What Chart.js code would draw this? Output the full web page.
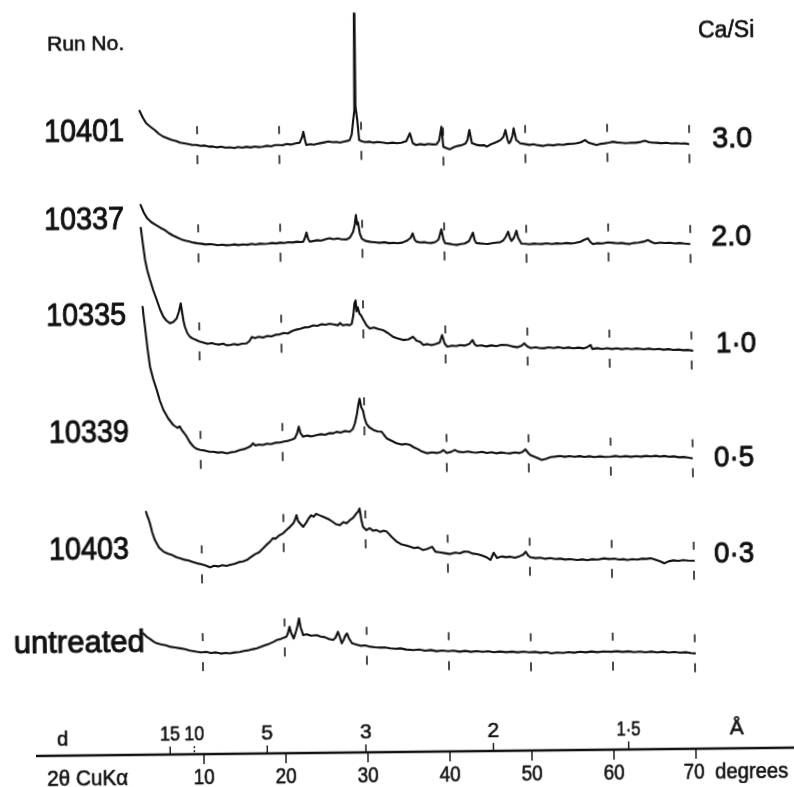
<!DOCTYPE html>
<html>
<head>
<meta charset="utf-8">
<script src="https://cdn.jsdelivr.net/npm/chart.js@4.4.1/dist/chart.umd.min.js"></script>
<style>
html,body{margin:0;padding:0;background:#fff;overflow:hidden;}
#wrap{width:794px;height:787px;}
#c{display:block;transform:rotate(-0.63deg);transform-origin:397px 393px;}
</style>
</head>
<body>
<div id="wrap"><canvas id="c" width="794" height="787"></canvas></div>
<script>
// ---- DATA (2θ degrees, relative intensity) ----
const runNumbers = ["10401", "10337", "10335", "10339", "10403", "untreated"];
const caSiRatios = ["3.0", "2.0", "1·0", "0·5", "0·3", ""];
const offsets = [148, 248, 355, 462, 565, 657];
const twoThetaTicks = [10, 20, 30, 40, 50, 60, 70];
const dSpacingTicks = [15, 10, 5, 3, 2, 1.5];
const dSpacingLabels = ["15", "10", "5", "3", "2", "1·5"];

const run10401 = [[3.0,40],[3.4,33],[3.8,27.5],[4.3,24],[4.85,20.5],[5.3,17],[5.85,14],[6.3,12.5],[6.9,10.5],[7.4,9.5],[7.9,7.7],[8.4,7],[8.9,6.3],[9.4,5.2],[9.9,5.2],[10.4,4.2],[10.9,4.6],[11.4,3.4],[11.9,3.6],[12.4,2.6],[12.9,3.2],[13.4,2.2],[14.0,2.5],[14.5,1.8],[15.0,2.8],[15.5,2.0],[16.0,2.9],[16.5,2.1],[17.0,3.0],[17.5,2.4],[18.0,2.7],[18.5,3.6],[19.0,3.0],[19.5,4.2],[19.9,4.3],[20.4,4.0],[20.9,5.2],[21.4,4.6],[22.0,5.8],[22.5,6.4],[22.8,12],[22.95,17.3],[23.15,9],[23.3,4],[23.8,4.8],[24.2,4.2],[24.6,5],[25.0,5.6],[25.5,6.4],[26.0,7.2],[26.5,6.5],[27.0,6.8],[27.4,6],[27.9,7],[28.3,7.6],[28.6,8.5],[28.85,14],[29.05,28.5],[29.2,38],[29.27,135],[29.34,42],[29.55,28],[29.75,8.4],[30.1,7.0],[30.5,6.2],[31.06,6.6],[31.5,5.6],[32.0,6.2],[32.7,5.5],[33.2,4.8],[33.8,5.4],[34.35,4.7],[34.9,5.2],[35.5,6.8],[35.94,14.6],[36.3,4.5],[36.7,2.8],[37.2,3.6],[37.7,2.9],[38.2,3.8],[38.7,3.1],[39.2,3.3],[39.5,7],[39.8,20.8],[40.0,0.8],[40.4,-0.8],[40.8,-1.9],[41.3,0.2],[41.8,1.4],[42.3,2.2],[42.7,3.6],[42.95,7],[43.2,17.2],[43.5,3.9],[44.0,2.4],[44.5,1.6],[45.0,1.9],[45.3,0.3],[45.7,2.2],[46.1,3.6],[46.6,5.2],[47.0,6.9],[47.35,10],[47.6,16.8],[47.85,7],[48.0,3.5],[48.2,5.1],[48.45,11],[48.6,18.4],[48.9,6.7],[49.4,3.3],[49.9,2.6],[50.5,1.6],[51.0,2.2],[51.6,1.1],[52.2,0.4],[52.8,1.5],[53.4,0.9],[54.0,1.8],[54.6,1.2],[55.2,2.1],[55.8,2.3],[56.3,2.7],[56.8,3.8],[57.3,5.9],[57.7,3.2],[58.2,2.0],[58.7,0.8],[59.2,1.9],[59.7,2.4],[60.2,3.0],[60.7,3.9],[61.2,3.1],[61.7,2.7],[62.3,2.2],[62.9,2.8],[63.5,2.6],[64.1,3.4],[64.6,4.6],[65.1,3.0],[65.5,2.6],[66.0,2.4],[66.6,1.9],[67.2,2.3],[67.8,1.5],[68.4,1.8],[69.0,1.2],[69.5,1.4],[69.9,0.8]];

const run10337 = [[3.0,45.8],[3.4,38],[3.8,32.4],[4.3,28.5],[4.85,25.6],[5.4,22.8],[5.9,20.6],[6.4,17.5],[6.9,15],[7.4,13],[7.9,11.1],[8.4,9.8],[8.9,8.8],[9.4,7.6],[9.9,6.9],[10.4,6.4],[10.9,5.6],[11.4,6.0],[11.9,5.5],[12.4,4.7],[12.9,5.3],[13.4,4.6],[13.9,4.8],[14.4,5.4],[14.9,4.6],[15.4,5.2],[16.0,4.9],[16.5,5.8],[17.0,5.0],[17.5,5.9],[18.0,5.5],[18.5,5.8],[19.0,6.4],[19.5,5.9],[20.0,6.6],[20.5,6.2],[21.0,7.0],[21.5,6.6],[22.0,7.4],[22.5,7.0],[22.8,7.4],[23.0,11],[23.2,16.4],[23.4,10],[23.6,7.3],[24.0,7.9],[24.5,8.6],[25.0,8.2],[25.5,9.4],[26.0,10.5],[26.5,9.5],[27.0,10.2],[27.5,9.3],[28.1,9.1],[28.5,11],[28.9,16.8],[29.1,24],[29.25,33.4],[29.4,24],[29.5,26],[29.7,15],[29.95,9.7],[30.4,7.4],[31.0,6.4],[31.5,6.0],[32.1,5.4],[32.7,5.9],[33.3,4.9],[33.8,5.3],[34.3,4.7],[34.9,5.4],[35.5,7.5],[35.9,10],[36.15,14.5],[36.4,8],[36.6,6.1],[37.1,5.2],[37.6,5.6],[38.0,4.8],[38.4,4.6],[38.9,5.5],[39.3,8],[39.65,18.2],[39.9,8],[40.1,4.2],[40.6,3.6],[41.0,3.0],[41.5,2.4],[42.0,3.2],[42.5,3.8],[43.0,6],[43.25,10],[43.5,14.5],[43.7,7],[43.9,4.1],[44.4,3.6],[44.9,3.2],[45.3,3.0],[45.8,3.8],[46.3,4.2],[46.8,4.6],[47.2,6.5],[47.5,10],[47.8,15.1],[48.0,9],[48.2,5.8],[48.5,9],[48.8,16],[49.0,9],[49.4,3],[49.9,2.8],[50.4,2.2],[50.9,2.9],[51.4,2.5],[51.9,2.4],[52.5,3.0],[53.1,2.3],[53.7,2.9],[54.3,2.5],[54.9,3.1],[55.4,2.6],[55.9,3.0],[56.6,4.2],[57.1,6.2],[57.5,7.6],[57.8,4],[58.1,1.8],[58.7,2.6],[59.3,2.2],[59.9,3.2],[60.5,2.9],[61.1,2.3],[61.6,2.6],[62.1,1.9],[62.6,1.4],[63.1,2.4],[63.7,2.8],[64.3,3.6],[64.85,5.2],[65.3,3],[65.7,1.7],[66.3,2.5],[66.9,2.0],[67.5,2.3],[68.1,1.5],[68.7,1.9],[69.3,1.2],[69.9,0.8]];

const run10335 = [[3.0,130],[3.25,113],[3.48,98],[3.75,87],[4.05,78],[4.45,67],[4.84,58],[5.25,48],[5.63,41],[6.0,37],[6.44,34.2],[6.85,35.5],[7.26,39],[7.55,46],[7.77,54],[7.95,44],[8.1,36],[8.25,30.5],[8.55,24],[8.85,20.5],[9.2,18.6],[9.6,17.2],[10.07,15.4],[10.5,14.6],[11.0,13.2],[11.5,14],[11.9,13],[12.4,12.4],[12.9,13.2],[13.3,11.6],[13.7,11.8],[14.2,12.8],[14.7,11.9],[15.2,13.0],[15.75,13.3],[16.1,15.5],[16.4,19.6],[16.8,18.4],[17.2,19.8],[17.8,18.9],[18.3,20.4],[18.8,20.0],[19.3,21.6],[19.8,21.9],[20.3,23.2],[20.8,22.8],[21.3,25.0],[21.8,26.4],[22.3,27.2],[22.8,28.6],[23.4,28.9],[23.9,30.5],[24.4,30.0],[24.9,31.6],[25.4,31.0],[25.9,32],[26.4,31.2],[26.9,30.4],[27.2,32.6],[27.5,30.2],[28.0,31.0],[28.3,30.2],[28.6,31.7],[28.8,40],[28.95,52],[29.1,55],[29.2,44],[29.35,48.3],[29.55,41.7],[29.75,40],[29.95,36.7],[30.4,30],[30.8,26.7],[31.3,27.8],[31.8,26.2],[32.4,25.1],[33.0,22],[33.6,18.3],[34.2,16.6],[34.85,14.9],[35.5,15.5],[36.05,18.1],[36.5,14],[36.9,13.1],[37.3,9.7],[37.8,10.6],[38.3,9.4],[38.8,10.4],[39.3,12],[39.6,19.5],[39.9,11],[40.2,7.8],[40.8,8.8],[41.3,8.2],[41.8,9.3],[42.3,8.6],[42.9,10.2],[43.3,14.2],[43.55,10],[43.8,8.2],[44.4,8.8],[45.0,7.6],[45.6,8.6],[46.2,7.8],[46.8,9.0],[47.5,8.8],[48.1,7.4],[48.8,6.4],[49.3,8],[49.6,10.3],[50.0,7],[50.4,5.5],[51.0,6.2],[51.5,5.2],[52.0,5.1],[52.6,6.0],[53.2,5.3],[53.8,6.1],[54.4,5.0],[55.0,5.6],[55.6,4.8],[56.2,5.4],[56.8,4.6],[57.3,5.8],[57.7,7.9],[57.9,3.9],[58.5,4.6],[59.1,3.8],[59.7,4.5],[60.3,3.6],[60.9,4.3],[61.5,3.4],[62.1,4.0],[62.7,3.3],[63.3,3.9],[64.2,3.0],[64.8,3.6],[65.4,2.8],[66.0,3.3],[66.6,2.4],[67.2,2.9],[67.8,2.0],[68.4,2.4],[69.0,1.6],[69.5,1.9],[70.1,1.1]];

const run10339 = [[3.12,158],[3.25,147],[3.38,138],[3.65,117],[3.94,98],[4.3,86],[4.72,75],[5.1,64],[5.5,55],[6.1,46],[6.7,39.5],[7.2,36.5],[7.5,38],[7.72,34.4],[8.0,31.5],[8.33,27.6],[8.7,22],[9.15,17.5],[9.5,15.4],[9.94,14.2],[10.5,13.6],[11.0,12.4],[11.57,12.3],[12.1,11.4],[12.6,11.8],[13.2,10.6],[13.7,11.6],[14.2,12.0],[14.8,13.7],[15.3,14.6],[15.8,16.2],[16.1,17.5],[16.4,20.3],[16.7,18.0],[17.1,18.9],[17.6,18.5],[18.1,19.8],[18.6,19.2],[19.1,20.6],[19.7,20.7],[20.2,21.8],[20.7,22.4],[21.1,23.4],[21.5,24.8],[21.8,30],[22.0,36.4],[22.2,30],[22.5,26.3],[23.0,27.4],[23.5,26.6],[24.15,27.8],[24.7,28.6],[25.2,28.0],[25.7,29.6],[26.2,29.4],[26.6,30.9],[27.1,30.0],[27.6,31.6],[28.2,30.8],[28.6,33.5],[28.85,39],[29.1,48],[29.3,58],[29.45,63.7],[29.65,55],[29.85,52],[30.05,44],[30.25,38.7],[30.6,35],[31.1,32.3],[31.6,30.8],[32.1,30.5],[32.4,27],[32.7,23.8],[33.3,21.2],[33.9,18.7],[34.5,17.4],[35.0,18.0],[35.55,16.9],[36.0,14.5],[36.5,12.6],[37.0,10.2],[37.6,8.4],[38.2,9.2],[38.8,8.6],[39.3,9.6],[39.6,11.5],[40.0,8.5],[40.5,9.4],[41.0,11.4],[41.4,9.6],[42.0,9.0],[42.6,9.8],[43.2,8.8],[43.7,8.5],[44.3,9.2],[44.9,8.0],[45.5,8.8],[46.1,7.6],[46.6,8.4],[47.2,7.8],[47.7,7.4],[48.3,8.2],[48.9,7.6],[49.3,9],[49.6,11.3],[49.9,8],[50.2,5.5],[50.7,3.8],[51.2,2.0],[51.6,0.4],[52.1,1.6],[52.7,3.2],[53.2,3.6],[53.8,4.2],[54.4,3.4],[55.0,4.0],[55.6,3.2],[56.2,3.9],[56.8,3.0],[57.4,3.6],[58.0,2.8],[58.7,3.4],[59.3,2.8],[60.0,3.0],[60.6,3.6],[61.2,2.8],[61.8,3.4],[62.5,2.6],[63.1,3.2],[63.7,2.6],[64.3,3.4],[64.9,2.8],[65.5,3.4],[66.0,2.5],[66.5,3.1],[67.1,2.2],[67.7,2.6],[68.3,1.6],[68.9,1.9],[69.4,1.2],[69.9,0.5]];

const run10403 = [[3.26,56],[3.4,52],[3.55,49],[3.72,44.4],[4.0,35],[4.3,27.7],[4.8,20],[5.34,15.9],[5.9,13.8],[6.4,12.4],[6.9,10.2],[7.4,9.1],[7.9,7.6],[8.4,6.8],[8.9,5.2],[9.4,3.9],[9.9,3.0],[10.4,1.8],[11.0,-0.2],[11.5,1.2],[12.0,0.6],[12.5,1.8],[13.0,1.0],[13.45,1.9],[14.0,3.0],[14.5,4.6],[15.0,5.2],[15.5,6.7],[16.0,9.6],[16.5,12.4],[17.0,14.2],[17.5,18.2],[17.9,21.6],[18.3,24.4],[18.7,28.1],[19.0,27.6],[19.5,31],[19.95,32.9],[20.4,36.5],[20.8,39.4],[21.2,42.7],[21.4,46],[21.6,50.9],[21.8,45],[22.1,42],[22.4,39.1],[22.8,43.6],[23.1,47.8],[23.4,50.7],[23.7,49.2],[24.0,52.1],[24.4,50.6],[24.8,49.2],[25.2,47.8],[25.6,46.2],[26.0,44],[26.4,41.5],[26.9,40.4],[27.3,43.5],[27.7,42.2],[28.1,45.3],[28.5,47.6],[28.9,51.9],[29.1,53.5],[29.3,56.9],[29.5,46],[29.7,38.6],[30.1,35.2],[30.5,37.2],[30.9,34.6],[31.35,35.2],[31.8,33.2],[32.2,34.4],[32.6,33.4],[33.2,28],[33.8,23.3],[34.3,20.8],[34.9,19.6],[35.4,18.2],[35.9,16.8],[36.4,17.4],[37.0,14.7],[37.5,15.8],[38.1,17.9],[38.5,12.9],[39.0,12.2],[39.6,11.4],[40.3,10.4],[40.9,11.8],[41.5,11.0],[42.0,12.8],[42.5,12.5],[43.0,10.6],[43.6,10.0],[44.2,8.4],[44.7,6.8],[45.2,4],[45.6,11.2],[46.0,5.9],[46.6,7.4],[47.1,6.6],[47.6,7.1],[48.2,6.0],[48.8,7.6],[49.2,9],[49.5,11.9],[49.8,8],[50.1,6.2],[50.7,5.4],[51.3,5.8],[51.9,4.6],[52.5,5.2],[53.1,4.2],[53.7,4.6],[54.3,3.6],[54.9,4.0],[55.8,3.0],[56.4,3.6],[57.0,2.8],[57.6,3.6],[58.3,3.2],[59.05,4.4],[59.7,3.6],[60.3,4.0],[60.9,3.0],[61.4,3.4],[61.9,2.5],[62.5,3.2],[63.1,2.8],[63.7,3.6],[64.2,3.4],[64.75,3.9],[65.3,2.6],[65.9,0.8],[66.4,-1.2],[66.9,0.6],[67.5,1.6],[68.1,1.0],[68.7,1.8],[69.3,1.2],[70.0,1.0]];

const runUntreated = [[2.74,26.5],[2.95,25],[3.15,23.1],[3.6,20.6],[4.0,18.2],[4.37,16.4],[4.9,15.2],[5.5,14.2],[6.1,12.6],[6.6,12.0],[7.2,11.1],[7.8,10.2],[8.4,8.8],[9.25,7.5],[9.8,6.8],[10.4,7.2],[11.0,6.0],[11.6,6.6],[12.2,5.4],[12.8,6.0],[13.3,5.5],[13.9,6.4],[14.5,6.8],[15.0,7.8],[15.6,8.4],[16.1,9.4],[16.6,10.3],[17.1,11.8],[17.6,13.2],[18.1,14.6],[18.6,16.4],[19.0,18.2],[19.5,19.2],[19.9,20.6],[20.2,21.4],[20.4,25],[20.6,31.4],[20.8,25],[21.1,19.7],[21.4,27],[21.6,33],[21.77,39.7],[21.95,31],[22.26,22.9],[22.7,23.8],[23.2,22.2],[23.9,22.8],[24.4,21.2],[24.9,20.6],[25.4,18.8],[25.9,17.7],[26.2,20],[26.5,25.9],[26.75,20],[26.95,14.3],[27.2,18],[27.4,22],[27.6,24.2],[27.85,19],[28.2,14.2],[28.7,13.0],[29.3,11.6],[29.8,12.0],[30.4,10.6],[31.0,10.0],[31.6,9.6],[32.2,9.8],[32.85,8.8],[33.5,8.2],[34.1,8.6],[34.8,7.4],[35.7,6.8],[36.4,7.2],[37.1,6.0],[37.8,6.6],[38.5,5.4],[39.2,6.0],[39.9,5.2],[40.6,5.8],[41.3,4.6],[42.0,5.4],[42.7,4.4],[43.4,5.0],[44.1,4.2],[44.8,4.8],[45.5,3.8],[46.2,4.4],[47.0,3.6],[47.7,4.1],[48.4,3.4],[49.1,4.0],[49.8,3.2],[50.5,3.6],[51.2,2.6],[51.9,3.2],[52.5,2.0],[53.2,2.8],[53.9,2.2],[54.6,3.0],[55.3,2.4],[56.0,3.2],[56.7,2.6],[57.4,3.4],[58.1,2.6],[58.8,3.2],[59.8,2.9],[60.5,3.4],[61.2,2.6],[61.9,3.1],[62.6,2.2],[63.3,2.8],[64.0,2.0],[64.7,2.6],[65.4,1.8],[66.1,2.4],[66.8,1.5],[67.5,2.0],[68.2,1.2],[68.9,1.6],[69.5,0.8],[70.0,0.4]];

const runs = [run10401, run10337, run10335, run10339, run10403, runUntreated];

// ---- helpers ----
const FONT = "'Liberation Sans', Arial, sans-serif";
const LAMBDA = 1.5406; // Cu Kα, Å
function dToTwoTheta(d){ return 2 * Math.asin(LAMBDA / (2 * d)) * 180 / Math.PI; }
function interp(arr, x){
  for (let i = 0; i < arr.length - 1; i++){
    const a = arr[i], b = arr[i+1];
    if (x >= a[0] && x <= b[0]) return a[1] + (b[1]-a[1]) * (x - a[0]) / (b[0] - a[0]);
  }
  return x < arr[0][0] ? arr[0][1] : arr[arr.length-1][1];
}

const datasets = runs.map((r, i) => ({
  label: runNumbers[i],
  data: r.map(p => ({ x: p[0], y: offsets[i] - p[1] })),
  borderColor: '#111',
  borderWidth: 2.1,
  borderJoinStyle: 'round',
  borderCapStyle: 'round',
  pointRadius: 0,
  tension: 0,
  fill: false
}));

function heavyText(ctx, t, x, y, maxW, sw){
  ctx.lineWidth = sw;
  ctx.strokeText(t, x, y, maxW);
  ctx.fillText(t, x, y, maxW);
}

const decorations = {
  id: 'decorations',
  afterDraw(chart){
    const ctx = chart.ctx, xs = chart.scales.x, ys = chart.scales.y;
    ctx.save();
    ctx.strokeStyle = '#111';
    ctx.fillStyle = '#111';
    ctx.lineCap = 'butt';
    ctx.lineJoin = 'round';
    // angle marker dashes above and below each trace
    ctx.lineWidth = 1.5;
    runs.forEach((r, i) => {
      twoThetaTicks.forEach(a => {
        const x = xs.getPixelForValue(a);
        const y = ys.getPixelForValue(offsets[i] - interp(r, a));
        ctx.beginPath();
        ctx.moveTo(x, y - 19); ctx.lineTo(x, y - 11);
        ctx.moveTo(x, y + 10); ctx.lineTo(x, y + 19);
        ctx.stroke();
      });
    });

    // headers
    ctx.textAlign = 'left';
    ctx.textBaseline = 'alphabetic';
    ctx.font = '21px ' + FONT;
    heavyText(ctx, 'Run No.', 51, 47, 80, 0.6);
    ctx.font = '23px ' + FONT;
    heavyText(ctx, 'Ca/Si', 702, 40.6, 58, 0.6);

    // run labels (left)
    const runBase = [137.7, 225.7, 321.7, 438.7, 556, 648.5];
    const runX = [47, 46, 47, 48.6, 47.3, 11];
    ctx.font = '31px ' + FONT;
    runNumbers.forEach((t, i) => {
      heavyText(ctx, t, runX[i], runBase[i], t === 'untreated' ? 136 : 80, 1.0);
    });
    // Ca/Si labels (right)
    const ratioBase = [150.7, 248.7, 355.7, 469.7, 565.7];
    const ratioX = [715, 713, 716.6, 713.3, 712.3];
    ctx.font = '30px ' + FONT;
    caSiRatios.forEach((t, i) => {
      if (t) heavyText(ctx, t, ratioX[i], ratioBase[i], 40, 1.0);
    });

    // bottom axis
    const axisY = 752;
    ctx.lineWidth = 2.4;
    ctx.beginPath(); ctx.moveTo(32, axisY); ctx.lineTo(800, axisY); ctx.stroke();
    ctx.lineWidth = 1.4;
    twoThetaTicks.forEach(a => {
      const x = xs.getPixelForValue(a);
      ctx.beginPath(); ctx.moveTo(x, axisY); ctx.lineTo(x, axisY + 10); ctx.stroke();
    });
    dSpacingTicks.forEach(d => {
      const x = xs.getPixelForValue(dToTwoTheta(d));
      ctx.setLineDash(d === 10 ? [2, 2] : []);
      ctx.beginPath(); ctx.moveTo(x, axisY - 8); ctx.lineTo(x, axisY); ctx.stroke();
    });
    ctx.setLineDash([]);

    ctx.textAlign = 'center';
    ctx.font = '21px ' + FONT;
    dSpacingTicks.forEach((d, i) => {
      const x = xs.getPixelForValue(dToTwoTheta(d));
      heavyText(ctx, dSpacingLabels[i], x, 738, d >= 10 ? 20 : 24, 0.6);
    });
    heavyText(ctx, 'Å', xs.getPixelForValue(75), 738, 20, 0.6);
    ctx.font = '20px ' + FONT;
    heavyText(ctx, 'd', 58.7, 742, 14, 0.6);

    ctx.font = '22px ' + FONT;
    twoThetaTicks.forEach(a => {
      const x = xs.getPixelForValue(a);
      heavyText(ctx, String(a), x - (a === 70 ? 2 : 0), 782, 21, 0.6);
    });
    ctx.textAlign = 'left';
    heavyText(ctx, 'degrees', xs.getPixelForValue(70) + 19, 782, 73, 0.6);
    heavyText(ctx, '2θ CuKα', 43, 782, 81, 0.6);
    ctx.restore();
  }
};

new Chart(document.getElementById('c'), {
  type: 'line',
  data: { datasets },
  options: {
    responsive: false,
    animation: false,
    devicePixelRatio: 1,
    layout: { padding: { left: 134.4, right: 61, top: 0, bottom: 0 } },
    plugins: { legend: { display: false }, tooltip: { enabled: false } },
    scales: {
      x: { type: 'linear', min: 2, max: 75, display: false },
      y: { type: 'linear', min: 0, max: 787, reverse: true, display: false }
    }
  },
  plugins: [decorations]
});
</script>
</body>
</html>
